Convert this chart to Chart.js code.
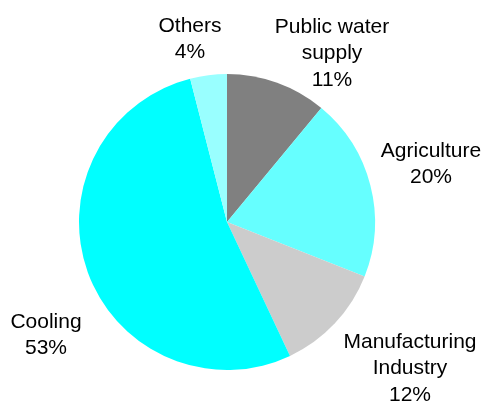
<!DOCTYPE html>
<html>
<head>
<meta charset="utf-8">
<script src="https://cdn.jsdelivr.net/npm/chart.js@4"></script>
<style>
  html, body { margin: 0; padding: 0; background: #ffffff; }
  #wrap { width: 486px; height: 401px; position: relative; }
</style>
</head>
<body>
<div id="wrap"><canvas id="grafico" width="486" height="401"></canvas></div>
<script>
// uso del agua por sector
const sectores = [['Public water', 'supply'], ['Agriculture'], ['Manufacturing', 'Industry'], ['Cooling'], ['Others']];
const porcentajes = [11, 20, 12, 53, 4];
const colores = ['#808080', '#66FFFF', '#CCCCCC', '#00FFFF', '#99FFFF'];

// posicion del texto de cada sector (centro de la primera linea)
const posEtiquetas = [[332, 27], [431, 151], [410, 342], [46, 322], [190, 26]];

const etiquetasFuera = {
  id: 'etiquetasFuera',
  afterDraw(chart) {
    const ctx = chart.ctx;
    ctx.save();
    ctx.fillStyle = '#000000';
    ctx.font = '21px "Liberation Sans", Arial, sans-serif';
    ctx.textAlign = 'center';
    ctx.textBaseline = 'middle';
    sectores.forEach((lineas, i) => {
      const [x, y] = posEtiquetas[i];
      const todas = lineas.concat([porcentajes[i] + '%']);
      todas.forEach((t, j) => ctx.fillText(t, x, y + j * 26.5));
    });
    ctx.restore();
  }
};

new Chart(document.getElementById('grafico'), {
  type: 'pie',
  data: {
    labels: sectores.map(s => s.join(' ')),
    datasets: [{
      data: porcentajes,
      backgroundColor: colores,
      borderWidth: 0
    }]
  },
  options: {
    responsive: false,
    animation: false,
    layout: { padding: { left: 79, right: 111, top: 74, bottom: 31 } },
    plugins: {
      legend: { display: false },
      tooltip: { enabled: false }
    }
  },
  plugins: [etiquetasFuera]
});
</script>
</body>
</html>
